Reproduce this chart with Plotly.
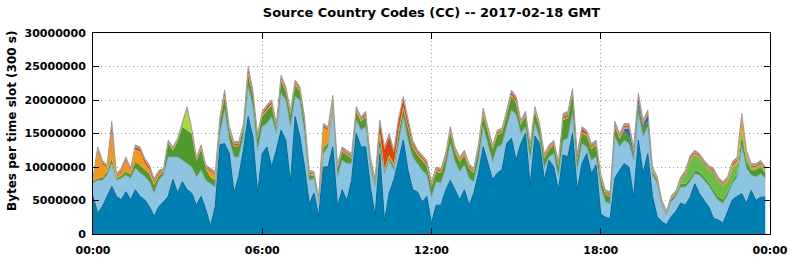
import plotly.graph_objects as go

# time slots (minutes after midnight, 10-minute sampling)
minutes = list(range(0, 1440, 10))

# layer thicknesses in millions of bytes per 300 s slot (bottom to top)
dark_blue = [5.6, 3.1, 4.1, 5.6, 7.1, 5.6, 5.1, 6.3, 5.1, 6.6,
             5.6, 5.1, 4.1, 2.6, 4.1, 4.8, 5.6, 8.1, 6.1, 7.8,
             6.6, 6.1, 4.3, 5.6, 3.6, 1.2, 4.1, 13.3, 13.5, 12.0,
             6.1, 8.6, 12.5, 17.5, 14.5, 6.1, 12.0, 13.0, 10.0, 12.5,
             15.5, 14.0, 7.6, 17.5, 14.5, 10.0, 4.5, 6.1, 2.6, 10.0,
             10.0, 13.0, 4.1, 6.6, 5.0, 8.0, 15.0, 13.0, 13.0, 7.0,
             2.6, 12.0, 1.8, 6.1, 8.1, 11.0, 14.0, 9.5, 6.6, 6.3,
             4.8, 5.6, 1.6, 4.3, 4.3, 6.5, 8.0, 6.6, 5.1, 6.6,
             4.3, 6.1, 9.1, 13.0, 10.5, 8.1, 9.1, 9.6, 13.5, 14.3,
             11.0, 13.5, 15.0, 7.1, 14.6, 13.5, 8.0, 11.0, 10.0, 6.5,
             11.8, 11.5, 15.0, 6.5, 10.5, 12.0, 9.0, 10.3, 3.0, 2.5,
             2.3, 8.3, 9.5, 10.5, 10.0, 5.5, 14.0, 9.0, 12.0, 5.6,
             2.6, 1.8, 1.4, 2.6, 3.4, 4.6, 4.3, 5.5, 7.5, 6.0,
             5.0, 4.0, 2.3, 2.1, 1.6, 3.3, 5.1, 5.6, 6.0, 4.6,
             6.5, 5.0, 5.5, 5.5]

light_blue = [2.0, 4.9, 3.9, 3.2, 3.4, 2.4, 3.2, 2.5, 3.2, 3.2,
              3.5, 3.5, 3.7, 3.5, 4.0, 4.0, 5.9, 3.4, 5.4, 3.2,
              3.9, 3.9, 4.2, 3.9, 4.4, 6.3, 2.9, 1.7, 5.0, 2.0,
              5.4, 2.9, 2.0, 4.5, 4.5, 6.4, 4.0, 3.5, 7.5, 2.5,
              5.5, 6.0, 8.4, 3.0, 5.5, 5.0, 3.5, 2.2, 1.9, 2.0,
              3.0, 6.0, 4.4, 4.4, 5.5, 2.5, 2.0, 2.5, 3.0, 3.0,
              4.4, 1.0, 7.2, 4.9, 1.4, 2.5, 3.5, 4.5, 4.9, 4.2,
              4.7, 3.2, 3.9, 3.5, 3.3, 3.3, 5.5, 4.2, 4.2, 3.7,
              4.0, 1.7, 1.9, 3.0, 3.0, 2.7, 3.9, 3.7, 2.5, 4.2,
              6.8, 1.5, 1.0, 3.9, 1.9, 0.8, 1.8, 0.5, 2.0, 2.0,
              2.2, 2.8, 3.0, 3.0, 3.0, 1.0, 2.0, 1.2, 4.0, 2.3,
              2.2, 6.2, 3.5, 3.5, 3.5, 5.5, 4.0, 5.5, 4.0, 3.2,
              5.0, 2.4, 1.4, 2.2, 2.2, 2.4, 2.7, 2.3, 1.5, 2.8,
              3.0, 3.2, 3.7, 2.9, 3.0, 2.5, 2.4, 2.9, 7.0, 5.2,
              2.3, 3.5, 3.5, 2.8]

dark_green = [0.3, 0.3, 0.4, 0.5, 0.8, 0.3, 0.4, 0.5, 0.6, 1.0,
              1.2, 1.0, 1.2, 1.2, 0.6, 0.4, 2.0, 1.0, 2.3, 5.0,
              5.0, 5.0, 2.4, 3.2, 1.7, 1.0, 1.0, 1.7, 2.0, 1.3,
              1.6, 1.6, 1.3, 1.8, 1.7, 1.8, 1.6, 1.9, 1.7, 0.8,
              1.8, 1.3, 1.8, 1.7, 1.3, 1.8, 0.8, 0.4, 0.5, 0.9,
              0.6, 0.9, 1.3, 1.3, 1.3, 0.8, 1.3, 1.3, 1.5, 0.8,
              0.6, 1.7, 0.5, 0.5, 0.6, 1.5, 1.2, 1.8, 1.5, 1.3,
              1.5, 1.4, 1.5, 1.5, 1.5, 1.5, 1.7, 1.5, 1.5, 1.4,
              1.5, 1.3, 1.7, 1.8, 1.7, 1.8, 1.8, 1.8, 1.8, 2.1,
              1.7, 1.3, 1.6, 1.8, 1.8, 1.5, 1.5, 1.1, 1.3, 1.6,
              3.0, 3.0, 2.9, 1.6, 1.5, 1.7, 1.7, 1.8, 1.3, 1.1,
              1.1, 1.5, 1.2, 1.4, 1.1, 0.9, 1.5, 1.4, 0.8, 0.6,
              0.5, 0.3, 0.2, 0.4, 0.4, 0.5, 0.5, 0.5, 0.5, 0.5,
              0.5, 0.5, 0.6, 0.6, 0.6, 0.5, 0.5, 0.5, 1.8, 1.0,
              0.7, 1.0, 1.0, 0.8]

light_green = [0.0] * 125 + [0.4, 1.4, 2.6, 2.3, 2.1, 1.9, 1.9, 2.6, 2.3, 2.0,
                             1.5, 1.9, 1.4, 0.6, 0.7, 0.3, 0.3, 0.3, 0.2]

lime = [0.0] * 19 + [0.3, 3.0, 0.2] + [0.0] * 122

navy = [0.0] * 113 + [0.3, 1.2, 0.4, 0.8, 0.4, 1.0] + [0.0] * 25

orange = [0.2, 4.0, 2.0, 0.5, 4.0, 0.2, 0.5, 1.6, 0.4, 1.8,
          2.0, 1.0, 0.6, 0.4, 0.3, 0.2, 0.1, 0.1, 0.1, 0.1,
          0.1, 0.2, 0.1, 0.1, 0.1, 0.8, 0.8, 0.2, 0.2, 0.2,
          0.2, 0.2, 0.2, 0.3, 0.2, 0.2, 0.2, 0.2, 0.2, 0.2,
          0.3, 0.2, 0.2, 0.3, 0.2, 0.2, 0.2, 0.2, 0.2, 3.0,
          1.8, 0.3, 0.2, 0.2, 0.2, 0.2, 0.2, 0.2, 0.2, 0.2,
          0.2, 0.5, 0.3, 0.3, 0.3, 0.5, 0.3, 0.3, 0.2, 0.2,
          0.2, 0.2, 0.2, 0.2, 0.2, 0.2, 0.3, 0.2, 0.2, 0.3,
          0.2, 0.2, 0.3, 0.5, 0.3, 0.2, 0.2, 0.2, 0.2, 0.2,
          0.2, 0.2, 0.2, 0.2, 0.2, 0.2, 0.2, 0.2, 0.2, 0.2,
          0.2, 0.2, 0.2, 0.2, 0.2, 0.2, 0.2, 0.2, 0.2, 0.2,
          0.2, 0.2, 0.3, 0.2, 0.2, 0.2, 0.2, 0.2, 0.2, 0.2,
          0.1, 0.1, 0.1, 0.1, 0.1, 0.1, 0.1, 0.2, 0.2, 0.1,
          0.1, 0.1, 0.1, 0.1, 0.1, 0.3, 0.3, 0.5, 2.0, 0.5,
          0.2, 0.2, 0.2, 0.2]

red = [0.1, 0.3, 0.3, 0.2, 1.0, 0.2, 0.3, 0.3, 0.2, 0.4,
       0.4, 0.4, 0.4, 0.3, 0.2, 0.1, 0.1, 0.1, 0.1, 0.1,
       0.2, 0.1, 0.2, 0.2, 0.2, 0.2, 0.2, 0.3, 0.5, 0.2,
       0.2, 0.2, 0.2, 0.6, 0.3, 0.2, 0.2, 0.4, 0.3, 0.2,
       0.3, 0.2, 0.2, 0.2, 0.2, 0.2, 0.2, 0.1, 0.1, 0.3,
       0.3, 0.2, 0.2, 0.2, 0.2, 0.2, 0.2, 0.2, 0.3, 0.2,
       0.2, 1.5, 2.8, 2.8, 1.8, 1.5, 1.2, 0.6, 0.5, 0.3,
       0.3, 0.3, 0.3, 0.2, 0.2, 0.2, 0.2, 0.2, 0.2, 0.2,
       0.2, 0.2, 0.2, 0.2, 0.2, 0.2, 0.2, 0.2, 0.2, 0.4,
       0.5, 0.2, 0.2, 0.2, 0.2, 0.2, 0.2, 0.2, 0.2, 0.2,
       0.3, 0.3, 0.3, 0.4, 0.5, 0.3, 0.3, 0.2, 0.2, 0.2,
       0.2, 0.3, 0.2, 0.3, 0.2, 0.2, 0.2, 0.2, 0.2, 0.1,
       0.1, 0.1, 0.1, 0.1, 0.1, 0.2, 0.2, 0.3, 0.2, 0.2,
       0.2, 0.2, 0.2, 0.2, 0.2, 0.2, 0.3, 0.3, 0.3, 0.2,
       0.2, 0.2, 0.2, 0.2]

grey = [0.3, 0.4, 0.3, 0.3, 0.5, 0.3, 0.3, 0.3, 0.3, 0.3,
        0.3, 0.3, 0.3, 0.3, 0.3, 0.3, 0.3, 0.3, 0.3, 0.3,
        0.2, 0.3, 0.3, 0.3, 0.3, 0.3, 0.3, 0.3, 0.3, 0.3,
        0.3, 0.3, 0.3, 0.3, 0.3, 0.3, 0.3, 0.3, 0.3, 0.3,
        0.3, 0.3, 0.3, 0.3, 0.3, 0.3, 0.3, 0.3, 0.3, 0.3,
        0.3, 0.3, 0.3, 0.3, 0.3, 0.3, 0.3, 0.3, 0.3, 0.3,
        0.3, 0.3, 0.4, 0.4, 0.3, 0.3, 0.3, 0.3, 0.3, 0.3,
        0.3, 0.3, 0.3, 0.3, 0.3, 0.3, 0.3, 0.3, 0.3, 0.3,
        0.3, 0.3, 0.3, 0.3, 0.3, 0.3, 0.3, 0.3, 0.3, 0.3,
        0.3, 0.3, 0.3, 0.3, 0.3, 0.3, 0.3, 0.3, 0.3, 0.3,
        0.5, 0.5, 0.3, 0.3, 0.3, 0.3, 0.3, 0.3, 0.3, 0.3,
        0.3, 0.3, 0.3, 0.3, 0.3, 0.3, 0.3, 0.3, 0.3, 0.3,
        0.3, 0.3, 0.3, 0.3, 0.3, 0.3, 0.3, 0.3, 0.3, 0.3,
        0.3, 0.3, 0.3, 0.3, 0.3, 0.3, 0.3, 0.3, 0.3, 0.3,
        0.3, 0.3, 0.3, 0.3]

unit = 1e6

x_tick_vals = [0, 360, 720, 1080, 1440]
x_tick_text = ["00:00", "06:00", "12:00", "18:00", "00:00"]
y_tick_vals = [0, 5000000, 10000000, 15000000, 20000000, 25000000, 30000000]
y_tick_text = ["0", "5000000", "10000000", "15000000", "20000000", "25000000", "30000000"]

title_text = "Source Country Codes (CC) -- 2017-02-18 GMT"
y_title = "Bytes per time slot (300 s)"

layers = [
    (dark_blue, "#0080b2", "#006690", 1.0),
    (light_blue, "#8cc4e2", "#8aa6b6", 0.8),
    (dark_green, "#4e9a2c", "#4e9a2c", 0),
    (light_green, "#6cbc4a", "#6cbc4a", 0),
    (lime, "#a4dc3c", "#a4dc3c", 0),
    (navy, "#3a62b2", "#3a62b2", 0),
    (orange, "#f29a18", "#f29a18", 0),
    (red, "#e0440e", "#e0440e", 0),
    (grey, "#9c9c9c", "#909090", 0.8),
]

fig = go.Figure()
for vals, fill, line, lw in layers:
    fig.add_trace(go.Scatter(
        x=minutes, y=[v * unit for v in vals],
        mode="lines", stackgroup="one",
        fillcolor=fill,
        line=dict(color=line, width=lw),
        hoverinfo="skip",
    ))

font_family = "DejaVu Sans"
tick_font = dict(family=font_family, size=11, color="black", weight="bold")

fig.update_layout(
    width=792, height=259,
    margin=dict(l=93, r=22, t=33, b=25, autoexpand=False),
    paper_bgcolor="white", plot_bgcolor="white",
    showlegend=False,
    font=dict(family=font_family, size=11, color="black", weight="bold"),
    title=dict(text=title_text, x=0.5, xref="paper", xanchor="center",
               y=1 - 12 / 259, yref="container", yanchor="middle",
               font=dict(family=font_family, size=13, color="black", weight="bold")),
    xaxis=dict(range=[0, 1440], tickvals=x_tick_vals, ticktext=x_tick_text,
               showgrid=True, gridcolor="#a0a0a0", griddash="1px,3px", gridwidth=1,
               zeroline=False, showline=True, linecolor="black", linewidth=1,
               mirror="allticks", ticks="inside", ticklen=6, tickcolor="black",
               ticklabelstandoff=6, automargin=False, tickfont=tick_font),
    yaxis=dict(range=[0, 30000000], tickvals=y_tick_vals, ticktext=y_tick_text,
               showgrid=True, gridcolor="#a0a0a0", griddash="1px,3px", gridwidth=1,
               zeroline=False, showline=True, linecolor="black", linewidth=1,
               mirror="allticks", ticks="inside", ticklen=6, tickcolor="black",
               ticklabelstandoff=4, automargin=False, tickfont=tick_font),
    annotations=[dict(text=y_title, textangle=-90, xref="paper", yref="paper",
                      x=(12 - 93) / 677, y=(234 - 121) / 201,
                      xanchor="center", yanchor="middle", showarrow=False,
                      font=dict(family=font_family, size=12, color="black", weight="bold"))],
)

fig.write_html("out.html")
